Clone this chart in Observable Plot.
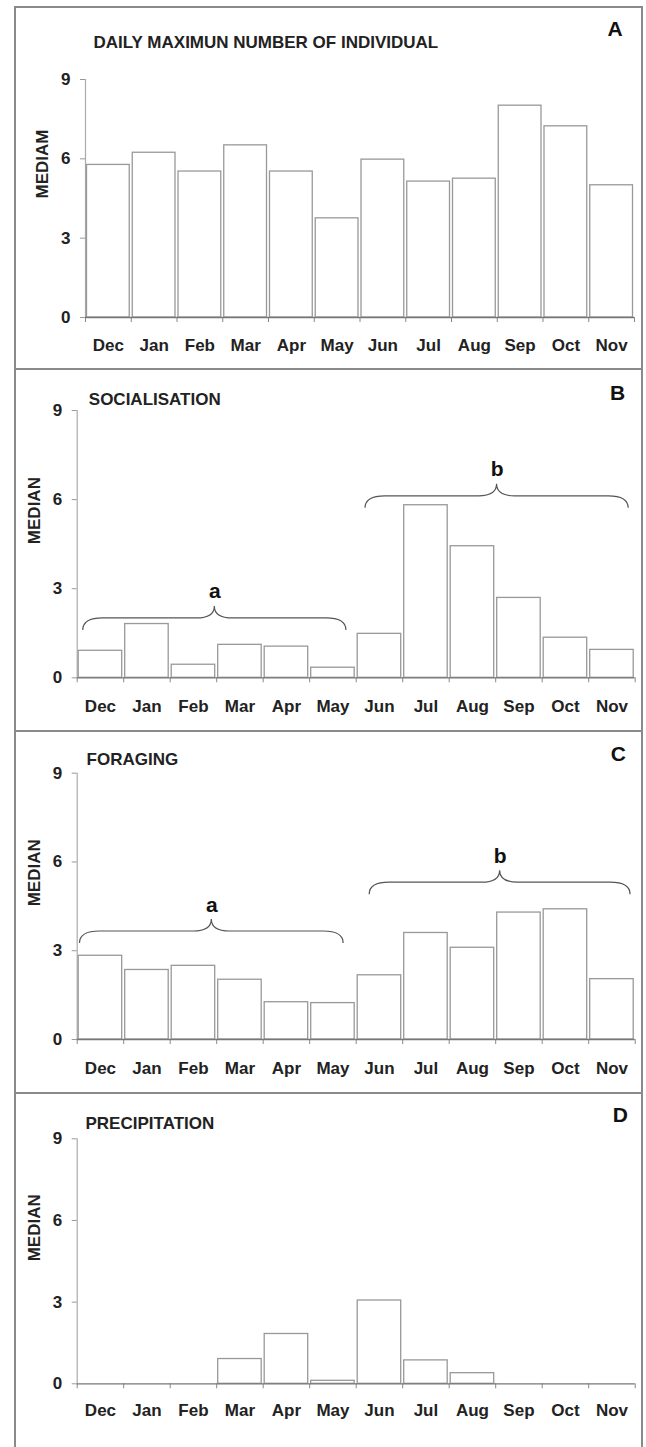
<!DOCTYPE html>
<html>
<head>
<meta charset="utf-8">
<script src="https://cdn.jsdelivr.net/npm/d3@7"></script>
<script src="https://cdn.jsdelivr.net/npm/@observablehq/plot@0.6"></script>
<style>
  html, body { margin: 0; padding: 0; background: #fff; }
  #root { position: relative; width: 646px; height: 1447px; background: #fff; overflow: hidden; }
  .panel { position: absolute; left: 0; }
  .line { position: absolute; background: #8a8a8a; }
</style>
</head>
<body>
<div id="root"></div>
<script>
// ---- data ----
const months = ["Dec", "Jan", "Feb", "Mar", "Apr", "May", "Jun", "Jul", "Aug", "Sep", "Oct", "Nov"];
const individuals   = [5.77, 6.23, 5.52, 6.51, 5.52, 3.75, 5.97, 5.14, 5.25, 8.01, 7.23, 5.00];
const socialisation = [0.91, 1.81, 0.44, 1.11, 1.05, 0.34, 1.48, 5.81, 4.43, 2.69, 1.35, 0.94];
const foraging      = [2.83, 2.35, 2.49, 2.02, 1.26, 1.23, 2.17, 3.60, 3.10, 4.29, 4.40, 2.04];
const precipitation = [0, 0, 0, 0.91, 1.83, 0.11, 3.06, 0.86, 0.39, 0, 0, 0];
const yTicks = [0, 3, 6, 9];
const panelTitles = ["DAILY MAXIMUN NUMBER OF INDIVIDUAL", "SOCIALISATION", "FORAGING", "PRECIPITATION"];
const panelLetters = ["A", "B", "C", "D"];
const yLabels = ["MEDIAM", "MEDIAN", "MEDIAN", "MEDIAN"];
const bracesSocialisation = [
  {x1: 0.13, x2: 5.79, y: 2.0, label: "a"},
  {x1: 6.20, x2: 11.86, y: 6.11, label: "b"}
];
const bracesForaging = [
  {x1: 0.06, x2: 5.73, y: 3.65, label: "a"},
  {x1: 6.29, x2: 11.90, y: 5.30, label: "b"}
];

const FONT = "'Liberation Sans', Arial, Helvetica, sans-serif";
const root = document.getElementById("root");

// frame lines
function addLine(l, t, w, h) {
  const d = document.createElement("div");
  d.className = "line";
  Object.assign(d.style, {left: l + "px", top: t + "px", width: w + "px", height: h + "px"});
  root.appendChild(d);
}

function braceMark(braces) {
  return (index, scales) => {
    const g = d3.create("svg:g")
      .attr("fill", "none")
      .attr("stroke", "#555")
      .attr("stroke-width", 1.2);
    const drop = 12, rise = 12, w = 20, c = 18;
    for (const b of braces) {
      const x1 = scales.x(b.x1), x2 = scales.x(b.x2), xm = (x1 + x2) / 2, y = scales.y(b.y);
      const p = d3.path();
      p.moveTo(x1, y + drop);
      p.quadraticCurveTo(x1, y, x1 + w, y);
      p.lineTo(xm - c, y);
      p.quadraticCurveTo(xm, y, xm, y - rise);
      p.quadraticCurveTo(xm, y, xm + c, y);
      p.lineTo(x2 - w, y);
      p.quadraticCurveTo(x2, y, x2, y + drop);
      g.append("path").attr("d", p.toString());
    }
    return g.node();
  };
}

function makePanel(cfg) {
  const marks = [
    Plot.ruleX([0], {y1: 0, y2: 9, stroke: "#aaa", strokeWidth: 1.2}),
    Plot.axisY({ticks: yTicks, tickSize: 5, tickPadding: 10, stroke: "#999", fill: "#222", label: null}),
    Plot.axisX({ticks: d3.range(13), tickSize: 5, tickFormat: () => "", stroke: "#888", label: null}),
    Plot.rect(cfg.values, {
      x1: (d, i) => i, x2: (d, i) => i + 1, y1: 0, y2: d => d,
      insetLeft: 1.5, insetRight: 1.5,
      fill: "white", stroke: "#999", strokeWidth: 1.3
    }),
    Plot.ruleY([0], {x1: 0, x2: 12, stroke: "#777", strokeWidth: 1.3}),
    Plot.text(months, {
      x: (d, i) => i + 0.5, y: 0, text: d => d,
      lineAnchor: "bottom", dy: cfg.monthDy, fontSize: 17, fontWeight: "bold", fill: "#222"
    }),
    Plot.text([cfg.yLabel], {
      frameAnchor: "left", rotate: -90, dx: -43, text: d => d,
      fontSize: 17, fontWeight: "bold", fill: "#222"
    }),
    Plot.text([cfg.title], {
      frameAnchor: "top-left", textAnchor: "start", lineAnchor: "bottom",
      dx: cfg.titleDx, dy: cfg.titleDy, text: d => d,
      fontSize: 17, fontWeight: "bold", fill: "#222"
    }),
    Plot.text([cfg.letter], {
      frameAnchor: "top-right", textAnchor: "middle", lineAnchor: "middle",
      dx: cfg.letterDx, dy: cfg.letterDy, text: d => d,
      fontSize: 21, fontWeight: "bold", fill: "#111"
    })
  ];
  if (cfg.braces) {
    marks.push(braceMark(cfg.braces));
    marks.push(Plot.text(cfg.braces, {
      x: d => (d.x1 + d.x2) / 2, y: "y", text: "label",
      lineAnchor: "bottom", dy: -20, fontSize: 21, fontWeight: "bold", fill: "#111"
    }));
  }
  const svg = Plot.plot({
    width: 646,
    height: cfg.height,
    marginLeft: cfg.ml, marginRight: cfg.mr, marginTop: cfg.mt, marginBottom: cfg.mb,
    x: {domain: [0, 12]},
    y: {domain: [0, 9]},
    style: {fontFamily: FONT, fontSize: "17px", fontWeight: "bold", color: "#222", background: "transparent", overflow: "visible"},
    marks
  });
  const wrap = document.createElement("div");
  wrap.className = "panel";
  wrap.style.top = cfg.top + "px";
  wrap.appendChild(svg);
  root.appendChild(wrap);
}

makePanel({top: 0, height: 369, ml: 85, mr: 12, mt: 79, mb: 52, values: individuals,
  title: panelTitles[0], letter: panelLetters[0], yLabel: yLabels[0],
  titleDx: 8, titleDy: -31.7, letterDx: -19.3, letterDy: -50.3, monthDy: 33});
makePanel({top: 369, height: 362, ml: 76.7, mr: 11.3, mt: 41, mb: 53.7, values: socialisation,
  title: panelTitles[1], letter: panelLetters[1], yLabel: yLabels[1],
  titleDx: 11.6, titleDy: -6, letterDx: -17.7, letterDy: -17.5, monthDy: 34, braces: bracesSocialisation});
makePanel({top: 731, height: 362, ml: 76.7, mr: 11.3, mt: 41.7, mb: 54, values: foraging,
  title: panelTitles[2], letter: panelLetters[2], yLabel: yLabels[2],
  titleDx: 9.4, titleDy: -8.7, letterDx: -16.8, letterDy: -18.7, monthDy: 34, braces: bracesForaging});
makePanel({top: 1093, height: 354, ml: 76.7, mr: 11.3, mt: 45.3, mb: 63.7, values: precipitation,
  title: panelTitles[3], letter: panelLetters[3], yLabel: yLabels[3],
  titleDx: 8.3, titleDy: -10, letterDx: -14.8, letterDy: -23.3, monthDy: 32.5});

// panel frame
addLine(14, 6, 2, 1441);
addLine(641, 6, 2, 1441);
addLine(14, 6, 629, 2);
addLine(14, 368, 629, 2);
addLine(14, 730, 629, 2);
addLine(14, 1092, 629, 2);
</script>
</body>
</html>
